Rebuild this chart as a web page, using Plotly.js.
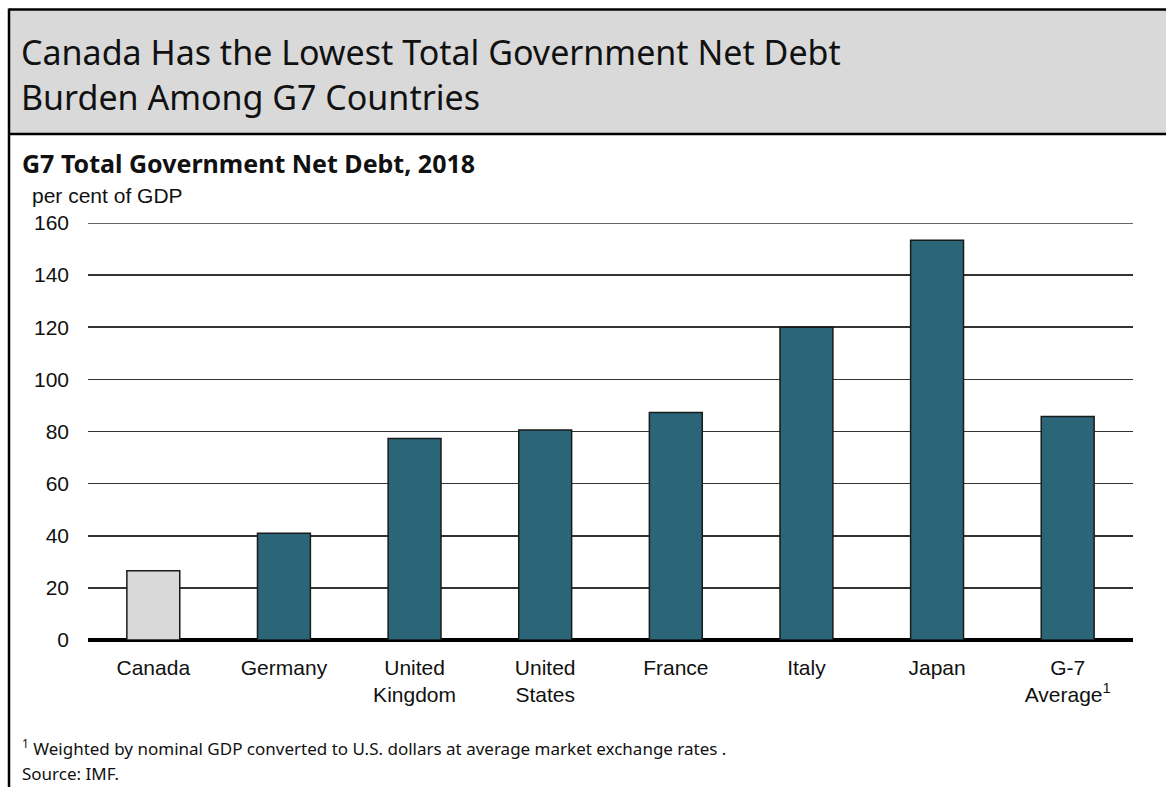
<!DOCTYPE html>
<html>
<head>
<meta charset="utf-8">
<script src="https://cdn.plot.ly/plotly-3.0.1.min.js"></script>
<style>html,body{margin:0;padding:0;background:#fff;}#chart{width:1166px;height:787px;}</style>
</head>
<body>
<div id="chart"></div>
<script>
const categories = ["Canada", "Germany", "United<br>Kingdom", "United<br>States", "France", "Italy", "Japan", "G-7<br>Average<sup>1</sup>"];
const netDebt = [26.6, 41.0, 77.3, 80.6, 87.3, 120.0, 153.4, 85.8];
const barColors = ["#d9d9d9", "#2a6678", "#2a6678", "#2a6678", "#2a6678", "#2a6678", "#2a6678", "#2a6678"];
const yTicks = [0, 20, 40, 60, 80, 100, 120, 140, 160];
const yMax = 160;

// plot area in pixels
const L = 88, R = 1133, T = 223, B = 640;
const px = x => (x - L) / (R - L);
const py = y => (B - y) / (B - T);

const trace = {
  type: 'bar',
  x: categories,
  y: netDebt,
  marker: {color: barColors, line: {color: '#1a1a1a', width: 1.5}},
  hoverinfo: 'x+y'
};

const layout = {
  width: 1166, height: 787,
  margin: {l: L, r: 1166 - R, t: T, b: 787 - B},
  paper_bgcolor: '#ffffff', plot_bgcolor: '#ffffff',
  showlegend: false,
  bargap: 0.595,
  font: {family: 'Liberation Sans, Arial, sans-serif', color: '#000'},
  xaxis: {
    type: 'category',
    tickfont: {size: 21, family: 'Liberation Sans, Arial, sans-serif', color: '#111'},
    showgrid: false, showline: false, ticks: '',
    ticklabelstandoff: 13,
    fixedrange: true
  },
  yaxis: {
    range: [0, yMax],
    tickvals: yTicks,
    ticktext: yTicks.map(String),
    tickfont: {size: 21, family: 'Liberation Sans, Arial, sans-serif', color: '#111'},
    showgrid: true, gridcolor: '#333333', gridwidth: 1.6,
    zeroline: true, zerolinecolor: '#000', zerolinewidth: 4.5,
    showline: false, ticks: '',
    ticklabelstandoff: 18,
    fixedrange: true
  },
  shapes: [
    {type: 'rect', xref: 'paper', yref: 'paper', x0: px(9), x1: px(1166), y0: py(9), y1: py(134), fillcolor: '#d9d9d9', line: {width: 0}, layer: 'below'},
    {type: 'line', xref: 'paper', yref: 'paper', x0: px(9), x1: px(1166), y0: py(9.5), y1: py(9.5), line: {color: '#000', width: 2.5}},
    {type: 'line', xref: 'paper', yref: 'paper', x0: px(9), x1: px(1166), y0: py(134), y1: py(134), line: {color: '#000', width: 2.5}},
    {type: 'line', xref: 'paper', yref: 'paper', x0: px(9), x1: px(9), y0: py(8.5), y1: py(787), line: {color: '#000', width: 2.5}},
    // top gridline (Plotly omits the grid line at the range edge)
    {type: 'line', xref: 'paper', yref: 'y', x0: 0, x1: 1, y0: yMax, y1: yMax, line: {color: '#333333', width: 1.6}, layer: 'below'}
  ],
  annotations: [
    {xref: 'paper', yref: 'paper', x: px(19), y: py(52), xanchor: 'left', yanchor: 'middle', showarrow: false, align: 'left',
     text: 'Canada Has the Lowest Total Government Net Debt', font: {family: 'Noto Sans, Open Sans, sans-serif', size: 34, color: '#111'}},
    {xref: 'paper', yref: 'paper', x: px(19), y: py(97), xanchor: 'left', yanchor: 'middle', showarrow: false, align: 'left',
     text: 'Burden Among G7 Countries', font: {family: 'Noto Sans, Open Sans, sans-serif', size: 34, color: '#111'}},
    {xref: 'paper', yref: 'paper', x: px(20), y: py(163), xanchor: 'left', yanchor: 'middle', showarrow: false,
     text: '<b>G7 Total Government Net Debt, 2018</b>', font: {family: 'Noto Sans, Open Sans, sans-serif', size: 25, color: '#111'}},
    {xref: 'paper', yref: 'paper', x: px(30), y: py(195), xanchor: 'left', yanchor: 'middle', showarrow: false,
     text: 'per cent of GDP', font: {family: 'Liberation Sans, Arial, sans-serif', size: 21, color: '#111'}},
    {xref: 'paper', yref: 'paper', x: px(20), y: py(747), xanchor: 'left', yanchor: 'middle', showarrow: false,
     text: '<sup>1</sup> Weighted by nominal GDP converted to U.S. dollars at average market exchange rates .', font: {family: 'Noto Sans, Open Sans, sans-serif', size: 17, color: '#111'}},
    {xref: 'paper', yref: 'paper', x: px(20), y: py(773), xanchor: 'left', yanchor: 'middle', showarrow: false,
     text: 'Source: IMF.', font: {family: 'Noto Sans, Open Sans, sans-serif', size: 17, color: '#111'}}
  ]
};

Plotly.newPlot('chart', [trace], layout, {displayModeBar: false, staticPlot: true});
</script>
</body>
</html>
